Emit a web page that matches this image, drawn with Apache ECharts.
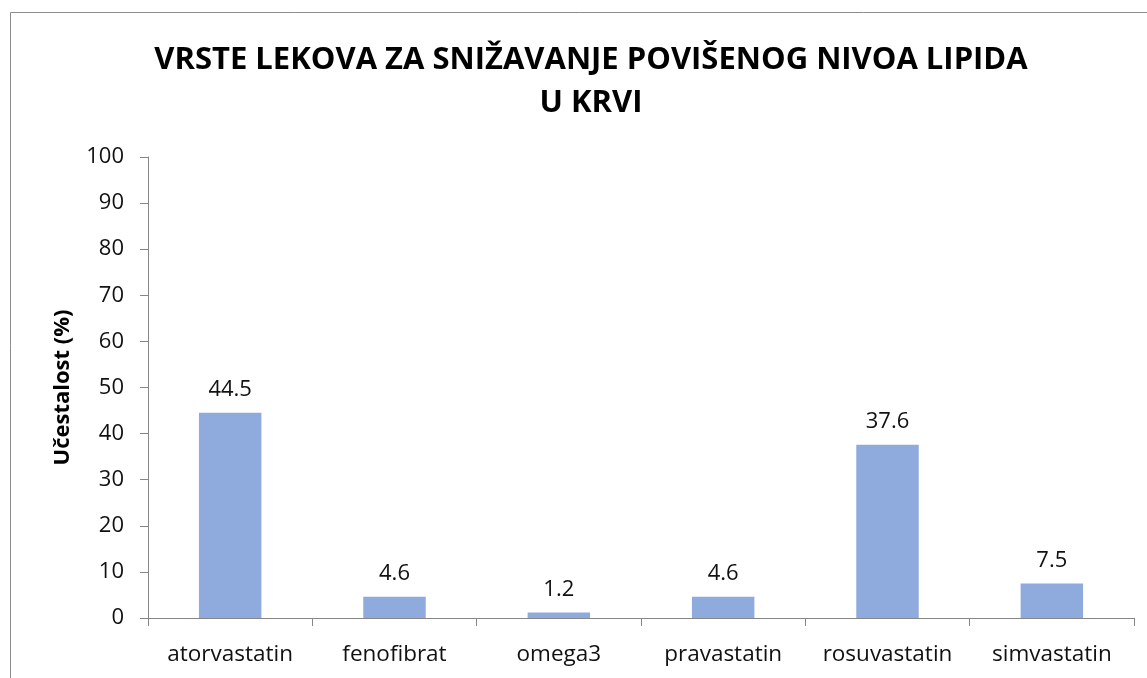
<!DOCTYPE html>
<html><head><meta charset="utf-8">
<script src="https://cdn.jsdelivr.net/npm/echarts@6/dist/echarts.min.js"></script>
<style>html,body{margin:0;padding:0;background:#fff}#c{width:1147px;height:678px}</style>
</head><body><div id="c"></div>
<script>
const categories = ['atorvastatin','fenofibrat','omega3','pravastatin','rosuvastatin','simvastatin'];
const values = [44.5, 4.6, 1.2, 4.6, 37.6, 7.5];
const titleLines = ['VRSTE LEKOVA ZA SNIŽAVANJE POVIŠENOG NIVOA LIPIDA', 'U KRVI'];
const yAxisName = 'Učestalost (%)';

const chart = echarts.init(document.getElementById('c'));
const font = 'Open Sans';
chart.setOption({
  animation: false,
  backgroundColor: '#fff',
  graphic: [{type:'rect', shape:{x:10.5,y:12.5,width:1150,height:700}, style:{fill:null, stroke:'#8c8c8c', lineWidth:1}, silent:true}],
  title: {
    text: titleLines.join('\n'), left: 586, top: 34, textAlign: 'center',
    textStyle: {fontFamily: font, fontWeight: 'bold', fontSize: 31, color: '#000', lineHeight: 43}
  },
  grid: {left: 148, right: 13, top: 157, bottom: 60},
  xAxis: {
    type: 'category', data: categories,
    axisLine: {lineStyle: {color: '#868686'}},
    axisTick: {show: true, length: 8, lineStyle: {color: '#868686'}},
    axisLabel: {interval: 0, hideOverlap: false, fontFamily: font, fontSize: 22.5, color: '#111', margin: 25}
  },
  yAxis: {
    type: 'value', min: 0, max: 100, interval: 10,
    name: yAxisName, nameLocation: 'middle', nameGap: 74,
    nameTextStyle: {fontFamily: font, fontWeight: 'bold', fontSize: 22, color: '#000'},
    axisLine: {show: true, lineStyle: {color: '#868686'}},
    axisTick: {show: true, length: 8, lineStyle: {color: '#868686'}},
    splitLine: {show: false},
    axisLabel: {fontFamily: font, fontSize: 22, color: '#111', margin: 24}
  },
  series: [{
    type: 'bar', data: values, barWidth: '38%',
    itemStyle: {color: '#8FAADC'},
    label: {show: true, position: 'top', distance: 12, fontFamily: font, fontSize: 22, color: '#111', formatter: p => p.value.toFixed(1)}
  }]
});
</script></body></html>
